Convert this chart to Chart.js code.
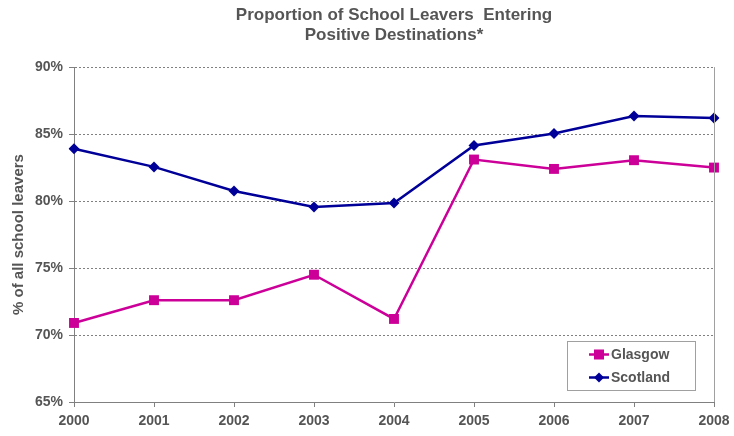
<!DOCTYPE html>
<html lang="en">
<head>
  <meta charset="UTF-8">
  <title>Proportion of School Leavers Entering Positive Destinations</title>
  <script src="https://cdn.jsdelivr.net/npm/chart.js"></script>
  <style>
    html, body {
      margin: 0;
      padding: 0;
      background: #fff;
    }
    #wrap {
      width: 734px;
      height: 436px;
    }
  </style>
</head>
<body>
  <div id="wrap"><canvas id="leaversChart"></canvas></div>

  <script>
    const years = ['2000', '2001', '2002', '2003', '2004', '2005', '2006', '2007', '2008'];
    const glasgow = [70.9, 72.6, 72.6, 74.5, 71.2, 83.1, 82.4, 83.05, 82.5];
    const scotland = [83.9, 82.55, 80.75, 79.55, 79.85, 84.15, 85.05, 86.35, 86.2];
    const yMin = 65, yMax = 90, yStep = 5;

    const textColor = '#555555';
    const fontFamily = '"Liberation Sans", Arial, sans-serif';

    // legend box inside the plot, bottom right, and the light right border
    const frameAndLegend = {
      id: 'frameAndLegend',
      afterDraw(chart) {
        const { ctx, chartArea } = chart;
        ctx.save();
        ctx.strokeStyle = '#a0a0a0';
        ctx.lineWidth = 1;
        ctx.beginPath();
        ctx.moveTo(Math.round(chartArea.right) + 0.5, chartArea.top);
        ctx.lineTo(Math.round(chartArea.right) + 0.5, chartArea.bottom);
        ctx.stroke();

        const bx = 567.5, by = 341.5, bw = 128, bh = 49;
        ctx.fillStyle = '#fff';
        ctx.fillRect(bx, by, bw, bh);
        ctx.strokeStyle = '#a0a0a0';
        ctx.strokeRect(bx, by, bw, bh);

        ctx.font = 'bold 14px ' + fontFamily;
        ctx.textBaseline = 'middle';
        chart.data.datasets.forEach((ds, i) => {
          const y = by + 13 + i * 23;
          ctx.strokeStyle = ds.borderColor;
          ctx.lineWidth = 2.5;
          ctx.beginPath();
          ctx.moveTo(589, y);
          ctx.lineTo(609, y);
          ctx.stroke();
          ctx.fillStyle = ds.borderColor;
          if (ds.pointStyle === 'rect') {
            ctx.fillRect(599 - 5, y - 5, 10, 10);
          } else {
            ctx.beginPath();
            ctx.moveTo(599, y - 5);
            ctx.lineTo(604, y);
            ctx.lineTo(599, y + 5);
            ctx.lineTo(594, y);
            ctx.closePath();
            ctx.fill();
          }
          ctx.fillStyle = textColor;
          ctx.textAlign = 'left';
          ctx.fillText(ds.label, 611, y + 0.5);
        });
        ctx.restore();
      }
    };

    const ctx = document.getElementById('leaversChart').getContext('2d');

    new Chart(ctx, {
      type: 'line',
      data: {
        labels: years,
        datasets: [
          {
            label: 'Glasgow',
            data: glasgow,
            borderColor: '#CC0099',
            backgroundColor: '#CC0099',
            borderWidth: 2.5,
            pointStyle: 'rect',
            pointRadius: 7,
            pointBorderWidth: 0,
            tension: 0
          },
          {
            label: 'Scotland',
            data: scotland,
            borderColor: '#000099',
            backgroundColor: '#000099',
            borderWidth: 2.5,
            pointStyle: 'rectRot',
            pointRadius: 5.5,
            pointBorderWidth: 0,
            tension: 0
          }
        ]
      },
      options: {
        responsive: true,
        maintainAspectRatio: false,
        animation: false,
        layout: {
          padding: { left: 0, right: 20, top: 0, bottom: 0 }
        },
        plugins: {
          legend: { display: false },
          tooltip: { enabled: false },
          title: {
            display: true,
            fullSize: false,
            text: ['Proportion of School Leavers  Entering', 'Positive Destinations*'],
            color: textColor,
            font: { family: fontFamily, size: 17, weight: 'bold', lineHeight: 1.15 },
            padding: { top: 6, bottom: 22 }
          }
        },
        scales: {
          x: {
            offset: false,
            grid: {
              drawOnChartArea: false,
              drawTicks: true,
              tickLength: 5,
              tickColor: '#808080'
            },
            border: { color: '#808080', width: 1 },
            ticks: {
              color: textColor,
              font: { family: fontFamily, size: 14, weight: 'bold' },
              padding: 6,
              maxRotation: 0,
              autoSkip: false
            },
            afterFit(scale) {
              scale.height = 34;
              scale.paddingLeft = 0;
              scale.paddingRight = 0;
            }
          },
          y: {
            min: yMin,
            max: yMax,
            ticks: {
              stepSize: yStep,
              color: textColor,
              font: { family: fontFamily, size: 14, weight: 'bold' },
              padding: 6,
              callback: v => v + '%'
            },
            grid: {
              color: '#808080',
              tickColor: '#808080',
              tickLength: 5,
              tickBorderDash: []
            },
            border: { color: '#808080', width: 1, dash: [2, 2] },
            title: {
              display: true,
              text: '% of all school leavers',
              color: textColor,
              font: { family: fontFamily, size: 15, weight: 'bold' },
              padding: { top: 10, bottom: 0 }
            },
            afterFit(scale) { scale.width = 74; }
          }
        }
      },
      plugins: [frameAndLegend]
    });
  </script>
</body>
</html>
